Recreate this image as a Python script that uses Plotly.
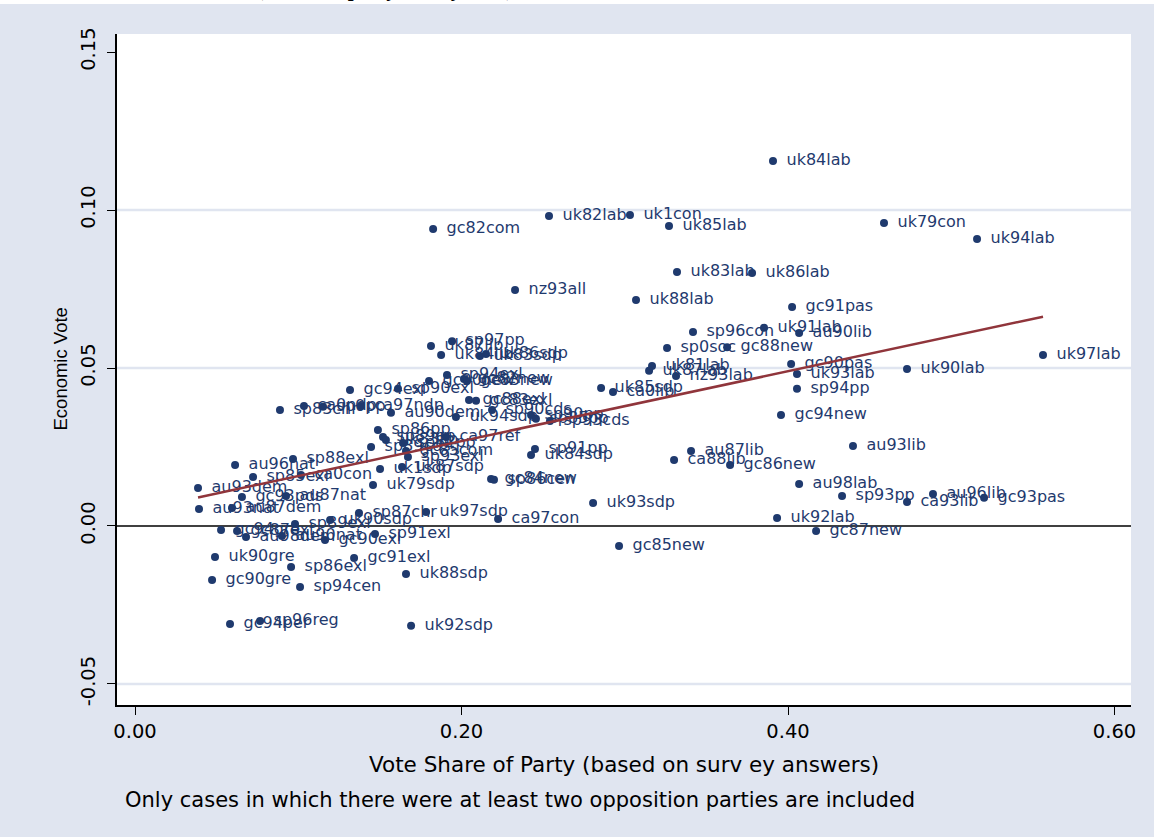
import numpy as np
import plotly.graph_objects as go

# Party-year cases: vote share (survey based) and estimated economic vote
labels = [
    "uk84lab", "uk82lab", "uk1con", "uk85lab", "gc82com", "uk79con", "uk94lab",
    "uk83lab", "uk86lab", "nz93all", "uk88lab", "gc91pas", "sp96con", "uk91lab",
    "au90lib", "sp0soc", "gc88new", "uk97lab", "uk81lab", "uk87lab", "nz93lab",
    "gc90pas", "uk93lab", "sp94pp", "uk90lab", "gc94new", "au93lib", "uk85sdp",
    "ca0lib", "au87lib", "ca88lib", "gc86new", "au98lab", "sp93pp", "au96lib",
    "ca93lib", "gc93pas", "uk92lab", "gc87new", "gc85new", "uk93sdp", "ca97con",
    "uk97sdp", "sp87chr", "uk92sdp", "uk88sdp", "sp94cen", "sp86exl", "gc91exl",
    "sp91exl", "gc90exl", "uk90gre", "gc90gre", "gc94per", "sp96reg", "au93dem",
    "au93nat", "au87dem", "gc93pds", "au87nat", "au96nat", "sp88exl", "sp85exl",
    "ca0con", "uk79sdp", "uk1sdp", "uk87sdp", "gc85com", "sp93exl", "sp91pp",
    "uk84sdp", "gc84new", "sp86cen", "uk87lib", "sp97pp", "uk84lib", "uk83sdp",
    "uk86sdp", "sp94exl", "gc90new", "gc82new", "gc83new", "gc94exl", "sp90exl",
    "sp83chr", "ca0ndp", "sp0pp", "ca97ndp", "au90dem", "uk94sdp", "gc88exl",
    "gc83exl", "sp90cds", "sp90pp", "sp85pp", "sp93cds", "sp86pp", "ca97ref",
    "sp89pp", "uk83lib", "sp82pp", "sp89cds", "gc94gre", "gc87exl", "au98dem",
    "au90nat", "sp89exl", "uk90sdp",
]

vote_share = [
    0.3908, 0.2536, 0.3032, 0.3271, 0.1826, 0.4588, 0.5158,
    0.3320, 0.3780, 0.2328, 0.3069, 0.4025, 0.3418, 0.3853,
    0.4068, 0.3259, 0.3627, 0.5562, 0.3167, 0.3149, 0.3314,
    0.4019, 0.4055, 0.4055, 0.4729, 0.3957, 0.4398, 0.2855,
    0.2928, 0.3406, 0.3302, 0.3645, 0.4068, 0.4331, 0.4888,
    0.4729, 0.5201, 0.3933, 0.4172, 0.2965, 0.2806, 0.2224,
    0.1783, 0.1372, 0.1691, 0.1660, 0.1011, 0.0956, 0.1342,
    0.1470, 0.1164, 0.0490, 0.0472, 0.0582, 0.0766, 0.0386,
    0.0392, 0.0594, 0.0655, 0.0925, 0.0613, 0.0968, 0.0723,
    0.1017, 0.1458, 0.1501, 0.1636, 0.1660, 0.1672, 0.2450,
    0.2426, 0.2181, 0.2199, 0.1813, 0.1942, 0.1875, 0.2113,
    0.2150, 0.1911, 0.1801, 0.2015, 0.2034, 0.1317, 0.1611,
    0.0888, 0.1035, 0.1152, 0.1384, 0.1568, 0.1966, 0.2046,
    0.2089, 0.2187, 0.2426, 0.2456, 0.2542, 0.1488, 0.1905,
    0.1519, 0.1537, 0.1642, 0.1446, 0.0527, 0.0625, 0.0680,
    0.0900, 0.0980, 0.1195,
]

econ_vote = [
    0.1155, 0.0981, 0.0984, 0.0949, 0.0940, 0.0959, 0.0908,
    0.0804, 0.0801, 0.0747, 0.0715, 0.0693, 0.0614, 0.0627,
    0.0611, 0.0563, 0.0566, 0.0541, 0.0506, 0.0491, 0.0475,
    0.0513, 0.0481, 0.0434, 0.0497, 0.0351, 0.0253, 0.0437,
    0.0424, 0.0237, 0.0209, 0.0193, 0.0133, 0.0095, 0.0101,
    0.0076, 0.0089, 0.0025, -0.0016, -0.0063, 0.0073, 0.0022,
    0.0044, 0.0041, -0.0316, -0.0152, -0.0193, -0.0130, -0.0101,
    -0.0025, -0.0044, -0.0098, -0.0171, -0.0310, -0.0301, 0.0120,
    0.0054, 0.0057, 0.0092, 0.0095, 0.0193, 0.0212, 0.0155,
    0.0161, 0.0130, 0.0180, 0.0187, 0.0237, 0.0218, 0.0244,
    0.0225, 0.0149, 0.0146, 0.0570, 0.0585, 0.0541, 0.0538,
    0.0544, 0.0478, 0.0459, 0.0465, 0.0459, 0.0430, 0.0434,
    0.0367, 0.0380, 0.0377, 0.0380, 0.0358, 0.0345, 0.0399,
    0.0396, 0.0367, 0.0351, 0.0339, 0.0332, 0.0304, 0.0282,
    0.0282, 0.0272, 0.0263, 0.0250, -0.0013, -0.0016, -0.0035,
    -0.0032, 0.0006, 0.0019,
]

x_ticks = [0.0, 0.2, 0.4, 0.6]
x_tick_text = ["0.00", "0.20", "0.40", "0.60"]
y_ticks = [-0.05, 0.0, 0.05, 0.10, 0.15]
y_tick_text = ["-0.05", "0.00", "0.05", "0.10", "0.15"]
y_grid = [-0.05, 0.05, 0.10]

NAVY = "#1f3a6e"
MAROON = "#90353b"
BG = "#e0e5f0"
FONT = "DejaVu Sans"
SANS = "Liberation Sans"
SERIF = "Liberation Serif"

# Linear fit of economic vote on vote share
xs = np.array(vote_share)
ys = np.array(econ_vote)
slope, intercept = np.polyfit(xs, ys, 1)
fit_x = np.array([xs.min(), xs.max()])
fit_y = intercept + slope * fit_x

fig = go.Figure()

# case markers
fig.add_trace(go.Scatter(
    x=vote_share, y=econ_vote, mode="markers",
    marker=dict(color=NAVY, size=8),
    showlegend=False, hoverinfo="skip",
))

# case labels (a wide, invisible marker keeps the gap to the dot)
fig.add_trace(go.Scatter(
    x=vote_share, y=econ_vote, mode="markers+text", text=labels,
    textposition="middle right",
    marker=dict(color=NAVY, size=20, opacity=0),
    textfont=dict(family=FONT, size=16, color=NAVY),
    cliponaxis=False, showlegend=False, hoverinfo="skip",
))

fig.add_trace(go.Scatter(
    x=fit_x, y=fit_y, mode="lines",
    line=dict(color=MAROON, width=2.5),
    showlegend=False, hoverinfo="skip",
))

shapes = []
for g in y_grid:
    shapes.append(dict(type="line", xref="paper", yref="y", x0=0, x1=1, y0=g, y1=g,
                       line=dict(color=BG, width=2.5), layer="below"))
shapes.append(dict(type="line", xref="paper", yref="y", x0=0, x1=1, y0=0, y1=0,
                   line=dict(color="black", width=1.3), layer="below"))
# white page strip above the graph region
shapes.append(dict(type="rect", xref="paper", yref="paper", x0=-0.2, x1=1.1,
                   y0=1.0447, y1=1.07, line=dict(width=0), fillcolor="white",
                   layer="above"))

annotations = [
    dict(text="<b>Vote Share and Economic Vote (based on party survey data)</b>",
         xref="paper", yref="paper", x=0, y=1, xanchor="left", yanchor="bottom",
         xshift=-143, yshift=31, showarrow=False,
         font=dict(family=SERIF, size=21, color="black")),
    dict(text="Economic Vote", xref="paper", yref="paper", x=0, y=0.5,
         xanchor="center", yanchor="middle",
         xshift=-57, textangle=-90, showarrow=False,
         font=dict(family=SANS, size=18.5, color="black")),
    dict(text="Vote Share of Party (based on surv ey answers)", xref="paper", yref="paper",
         x=0.5, y=0, xanchor="center", yanchor="middle", yshift=-59, showarrow=False,
         font=dict(family=FONT, size=21.5, color="black")),
    dict(text="Only cases in which there were at least two opposition parties are included",
         xref="paper", yref="paper", x=0, y=0, xshift=6, yshift=-95,
         xanchor="left", yanchor="middle",
         showarrow=False, font=dict(family=FONT, size=21, color="black")),
]

fig.update_layout(
    width=1154, height=837,
    margin=dict(l=117, r=23, t=34, b=132),
    paper_bgcolor=BG, plot_bgcolor="white",
    shapes=shapes, annotations=annotations,
    xaxis=dict(range=[-0.01103, 0.6101], tickvals=x_ticks, ticktext=x_tick_text,
               showgrid=False, zeroline=False, showline=True, linecolor="black",
               linewidth=1.5, ticks="outside", ticklen=8, tickcolor="black",
               tickfont=dict(family=FONT, size=19.5, color="black")),
    yaxis=dict(range=[-0.05665, 0.1557], tickvals=y_ticks, ticktext=y_tick_text,
               showgrid=False, zeroline=False, showline=True, linecolor="black",
               linewidth=1.5, ticks="outside", ticklen=8, tickcolor="black",
               tickangle=-90, ticklabelstandoff=4,
               tickfont=dict(family=FONT, size=19.5, color="black")),
)

fig.write_html("out.html")
